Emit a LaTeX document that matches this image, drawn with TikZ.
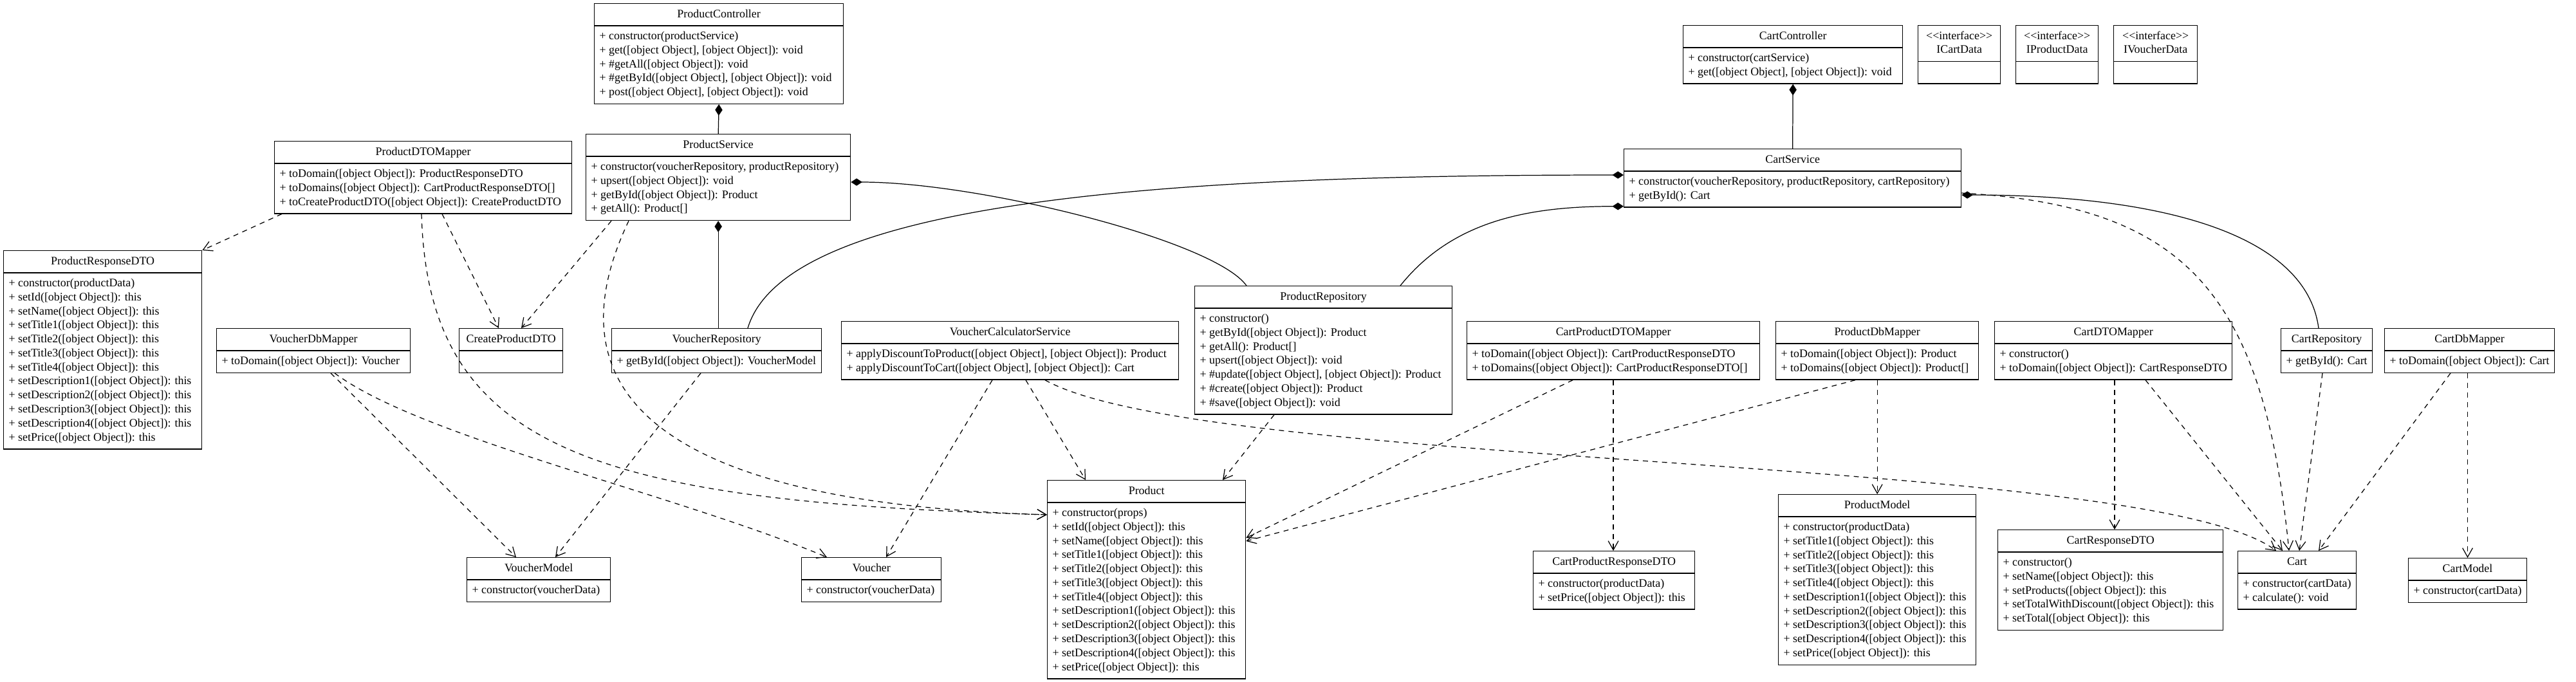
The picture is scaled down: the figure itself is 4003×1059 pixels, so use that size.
\documentclass[tikz,border=0pt]{standalone}
\usepackage{fontspec}
\setmainfont{Liberation Serif}
\usepackage{tikz}
\usetikzlibrary{shapes.multipart, arrows.meta, calc}
\newcommand{\umlfont}{\fontsize{10.2}{12.4}\selectfont}
\newcommand{\ops}[1]{\begin{tabular}{@{}l@{}}#1\end{tabular}}
\newcommand{\hdr}[1]{\begin{tabular}{@{}c@{}}#1\end{tabular}}
\newcommand{\oo}{[object Object]}
\newcommand{\stereo}{<\kern0pt<interface>\kern0pt>}
\tikzset{
  umlclass/.style={rectangle split, rectangle split parts=2, draw=black,
    line width=0.8pt, anchor=north west, inner xsep=4.5pt, inner ysep=3.15pt,
    rectangle split part align={center,left}, font=\umlfont, minimum width=#1},
  comp/.style={-{Diamond[length=10pt,width=6.5pt]}, line width=0.7pt},
  dep/.style={-{Straight Barb[length=8pt,width=9pt]}, line width=0.7pt,
    dash pattern=on 4.5pt off 4pt}
}
\begin{document}
\begin{tikzpicture}[x=0.02cm, y=-0.02cm]
  \useasboundingbox (0,0) rectangle (4003,1059);

  % Product side
  \node[umlclass=7.74cm] (pctrl) at (923,5) {\hdr{ProductController}\nodepart{two}\ops{+ constructor(productService)\\+ get(\oo, \oo): void\\+ \#getAll(\oo): void\\+ \#getById(\oo, \oo): void\\+ post(\oo, \oo): void}};
  \node[umlclass=8.22cm] (psvc) at (910,208) {\hdr{ProductService}\nodepart{two}\ops{+ constructor(voucherRepository, productRepository)\\+ upsert(\oo): void\\+ getById(\oo): Product\\+ getAll(): Product[]}};
  \node[umlclass=9.24cm] (pdtomap) at (426,219) {\hdr{ProductDTOMapper}\nodepart{two}\ops{+ toDomain(\oo): ProductResponseDTO\\+ toDomains(\oo): CartProductResponseDTO[]\\+ toCreateProductDTO(\oo): CreateProductDTO}};
  \node[umlclass=6.16cm] (presdto) at (5,389) {\hdr{ProductResponseDTO}\nodepart{two}\ops{+ constructor(productData)\\+ setId(\oo): this\\+ setName(\oo): this\\+ setTitle1(\oo): this\\+ setTitle2(\oo): this\\+ setTitle3(\oo): this\\+ setTitle4(\oo): this\\+ setDescription1(\oo): this\\+ setDescription2(\oo): this\\+ setDescription3(\oo): this\\+ setDescription4(\oo): this\\+ setPrice(\oo): this}};
  \node[umlclass=6.02cm] (vdbmap) at (336,510) {\hdr{VoucherDbMapper}\nodepart{two}\ops{+ toDomain(\oo): Voucher}};
  \node[umlclass=3.22cm] (cpdto) at (713,510) {\hdr{CreateProductDTO}\nodepart{two}\ops{\strut}};
  \node[umlclass=6.52cm] (vrepo) at (950,510) {\hdr{VoucherRepository}\nodepart{two}\ops{+ getById(\oo): VoucherModel}};
  \node[umlclass=10.48cm] (vcalc) at (1307,499) {\hdr{VoucherCalculatorService}\nodepart{two}\ops{+ applyDiscountToProduct(\oo, \oo): Product\\+ applyDiscountToCart(\oo, \oo): Cart}};
  \node[umlclass=8.00cm] (prepo) at (1856,444) {\hdr{ProductRepository}\nodepart{two}\ops{+ constructor()\\+ getById(\oo): Product\\+ getAll(): Product[]\\+ upsert(\oo): void\\+ \#update(\oo, \oo): Product\\+ \#create(\oo): Product\\+ \#save(\oo): void}};
  \node[umlclass=6.16cm] (prod) at (1627,746) {\hdr{Product}\nodepart{two}\ops{+ constructor(props)\\+ setId(\oo): this\\+ setName(\oo): this\\+ setTitle1(\oo): this\\+ setTitle2(\oo): this\\+ setTitle3(\oo): this\\+ setTitle4(\oo): this\\+ setDescription1(\oo): this\\+ setDescription2(\oo): this\\+ setDescription3(\oo): this\\+ setDescription4(\oo): this\\+ setPrice(\oo): this}};
  \node[umlclass=4.46cm] (vmodel) at (725,866) {\hdr{VoucherModel}\nodepart{two}\ops{+ constructor(voucherData)}};
  \node[umlclass=4.34cm] (voucher) at (1245,866) {\hdr{Voucher}\nodepart{two}\ops{+ constructor(voucherData)}};

  % Cart side
  \node[umlclass=6.82cm] (cctrl) at (2615,39) {\hdr{CartController}\nodepart{two}\ops{+ constructor(cartService)\\+ get(\oo, \oo): void}};
  \node[umlclass=2.56cm] (icart) at (2980,39) {\hdr{\stereo\\ICartData}\nodepart{two}\ops{\strut}};
  \node[umlclass=2.56cm] (iprod) at (3132,39) {\hdr{\stereo\\IProductData}\nodepart{two}\ops{\strut}};
  \node[umlclass=2.60cm] (ivouch) at (3284,39) {\hdr{\stereo\\IVoucherData}\nodepart{two}\ops{\strut}};
  \node[umlclass=10.48cm] (csvc) at (2523,231) {\hdr{CartService}\nodepart{two}\ops{+ constructor(voucherRepository, productRepository, cartRepository)\\+ getById(): Cart}};
  \node[umlclass=9.10cm] (cpdtomap) at (2279,499) {\hdr{CartProductDTOMapper}\nodepart{two}\ops{+ toDomain(\oo): CartProductResponseDTO\\+ toDomains(\oo): CartProductResponseDTO[]}};
  \node[umlclass=6.30cm] (pdbmap) at (2759,499) {\hdr{ProductDbMapper}\nodepart{two}\ops{+ toDomain(\oo): Product\\+ toDomains(\oo): Product[]}};
  \node[umlclass=7.14cm] (cdtomap) at (3099,499) {\hdr{CartDTOMapper}\nodepart{two}\ops{+ constructor()\\+ toDomain(\oo): CartResponseDTO}};
  \node[umlclass=2.76cm] (crepo) at (3544,510) {\hdr{CartRepository}\nodepart{two}\ops{+ getById(): Cart}};
  \node[umlclass=5.06cm] (cdbmap) at (3705,510) {\hdr{CartDbMapper}\nodepart{two}\ops{+ toDomain(\oo): Cart}};
  \node[umlclass=5.02cm] (cpresdto) at (2382,856) {\hdr{CartProductResponseDTO}\nodepart{two}\ops{+ constructor(productData)\\+ setPrice(\oo): this}};
  \node[umlclass=6.14cm] (pmodel) at (2763,768) {\hdr{ProductModel}\nodepart{two}\ops{+ constructor(productData)\\+ setTitle1(\oo): this\\+ setTitle2(\oo): this\\+ setTitle3(\oo): this\\+ setTitle4(\oo): this\\+ setDescription1(\oo): this\\+ setDescription2(\oo): this\\+ setDescription3(\oo): this\\+ setDescription4(\oo): this\\+ setPrice(\oo): this}};
  \node[umlclass=7.00cm] (cresdto) at (3104,823) {\hdr{CartResponseDTO}\nodepart{two}\ops{+ constructor()\\+ setName(\oo): this\\+ setProducts(\oo): this\\+ setTotalWithDiscount(\oo): this\\+ setTotal(\oo): this}};
  \node[umlclass=3.56cm] (cart) at (3477,856) {\hdr{Cart}\nodepart{two}\ops{+ constructor(cartData)\\+ calculate(): void}};
  \node[umlclass=3.56cm] (cmodel) at (3742,867) {\hdr{CartModel}\nodepart{two}\ops{+ constructor(cartData)}};

  % Compositions
  \draw[comp] (psvc.north) -- (pctrl.south);
  \draw[comp] (vrepo.north -| psvc.south) -- (psvc.south);
  \draw[comp] ($(prepo.north west)+(81,0)$) .. controls +(-50,-70) and +(200,0) .. ($(psvc.north east)+(0,75)$);
  \draw[comp] ($(vrepo.north west)+(212,0)$) .. controls +(60,-200) and +(-700,0) .. ($(csvc.north west)+(0,41)$);
  \draw[comp] ($(prepo.north west)+(320,0)$) .. controls +(80,-100) and +(-150,0) .. ($(csvc.south west)+(0,-2)$);
  \draw[comp] (csvc.north) -- (cctrl.south);
  \draw[comp] ($(crepo.north west)+(59,0)$) .. controls +(-20,-150) and +(300,0) .. ($(csvc.north east)+(0,72)$);

  % Dependencies
  \draw[dep] ($(pdtomap.south west)+(12,0)$) -- (presdto.north east);
  \draw[dep] ($(pdtomap.south west)+(261,0)$) -- ($(cpdto.north west)+(62,0)$);
  \draw[dep] ($(psvc.south west)+(40,0)$) -- ($(cpdto.north west)+(97,0)$);
  \draw[dep] ($(pdtomap.south west)+(229,0)$) .. controls +(10,370) and +(-700,-20) .. ($(prod.north west)+(0,54)$);
  \draw[dep] ($(psvc.south west)+(67,0)$) .. controls +(-100,210) and +(-700,-20) .. ($(prod.north west)+(0,54)$);
  \draw[dep] ($(vdbmap.south west)+(178,0)$) -- ($(vmodel.north west)+(77,0)$);
  \draw[dep] ($(vdbmap.south west)+(184,0)$) .. controls +(134,100) and +(-240,-100) .. ($(voucher.north west)+(40,0)$);
  \draw[dep] ($(vrepo.south west)+(139,0)$) -- ($(vmodel.north west)+(138,0)$);
  \draw[dep] ($(vcalc.south west)+(235,0)$) -- ($(voucher.north west)+(132,0)$);
  \draw[dep] ($(vcalc.south west)+(287,0)$) -- ($(prod.north west)+(60,0)$);
  \draw[dep] ($(vcalc.south west)+(317,0)$) .. controls +(250,140) and +(-200,-150) .. ($(cart.north west)+(60,0)$);
  \draw[dep] ($(prepo.south west)+(124,0)$) -- ($(prod.north west)+(273,0)$);
  \draw[dep] ($(cpdtomap.south west)+(165,0)$) -- ($(prod.north east)+(0,90)$);
  \draw[dep] ($(cpdtomap.south west)+(228,0)$) -- ($(cpresdto.north west)+(125,0)$);
  \draw[dep] ($(pdbmap.south west)+(124,0)$) -- ($(prod.north east)+(0,95)$);
  \draw[dep] (pmodel.north |- pdbmap.south) -- (pmodel.north);
  \draw[dep] ($(cdtomap.south west)+(187,0)$) -- ($(cresdto.north west)+(182,0)$);
  \draw[dep] ($(cdtomap.south west)+(235,0)$) -- ($(cart.north west)+(70,0)$);
  \draw[dep] ($(csvc.north east)+(0,69)$) .. controls +(350,20) and +(-40,-400) .. ($(cart.north west)+(80,0)$);
  \draw[dep] ($(crepo.south west)+(65,0)$) -- ($(cart.north west)+(96,0)$);
  \draw[dep] ($(cdbmap.south west)+(103,0)$) -- ($(cart.north west)+(126,0)$);
  \draw[dep] (cmodel.north |- cdbmap.south) -- (cmodel.north);
\end{tikzpicture}
\end{document}
